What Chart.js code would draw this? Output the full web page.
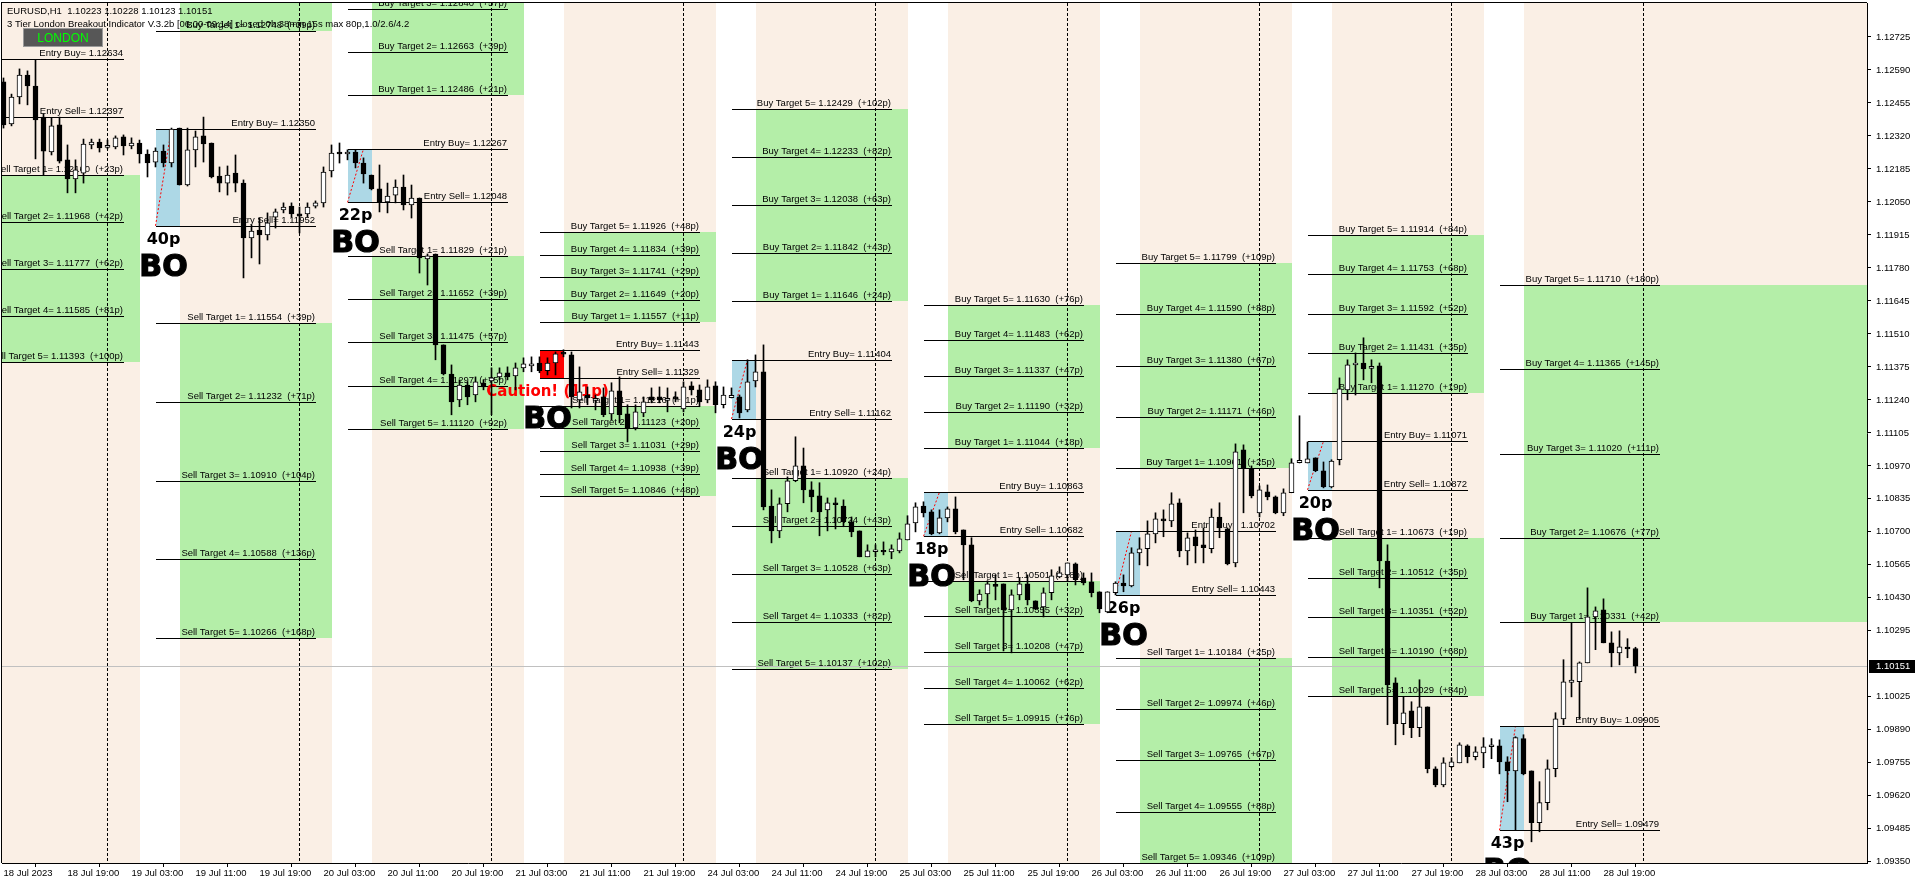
<!DOCTYPE html>
<html lang="en">
<head>
<meta charset="UTF-8">
<title>EURUSD,H1 - 3 Tier London Breakout</title>
<style>
    * { margin: 0; padding: 0; }
    body { background: #fff; }
    .container { position: relative; width: 1916px; height: 885px; }
</style>
</head>
<body>
<div class="container">
    <canvas id="chart" width="1916" height="885"></canvas>
</div>
<script src="https://cdn.jsdelivr.net/npm/chart.js@4.4.1/dist/chart.umd.min.js"></script>
<script>
    // bar 0 = 18 Jul 11:00, one bar per hour, labels every 8 bars
    var timeLabels = ['18 Jul 2023', '18 Jul 19:00', '19 Jul 03:00', '19 Jul 11:00', '19 Jul 19:00',
        '20 Jul 03:00', '20 Jul 11:00', '20 Jul 19:00', '21 Jul 03:00', '21 Jul 11:00', '21 Jul 19:00',
        '24 Jul 03:00', '24 Jul 11:00', '24 Jul 19:00', '25 Jul 03:00', '25 Jul 11:00', '25 Jul 19:00',
        '26 Jul 03:00', '26 Jul 11:00', '26 Jul 19:00', '27 Jul 03:00', '27 Jul 11:00', '27 Jul 19:00',
        '28 Jul 03:00', '28 Jul 11:00', '28 Jul 19:00'];

    var priceTicks = [1.12725, 1.12590, 1.12455, 1.12320, 1.12185, 1.12050, 1.11915, 1.11780, 1.11645,
        1.11510, 1.11375, 1.11240, 1.11105, 1.10970, 1.10835, 1.10700, 1.10565, 1.10430, 1.10295,
        1.10025, 1.09890, 1.09755, 1.09620, 1.09485, 1.09350];

    var bidPrice = 1.10151;
    var daySeparators = [13, 37, 61, 85, 109, 133, 157, 181, 205];

    // candles: [open, high, low, close]
    var candles = [
        [1.12541, 1.12557, 1.12352, 1.12365], [1.12369, 1.12491, 1.12361, 1.12479], [1.12479, 1.12594, 1.12451, 1.12569],
        [1.12569, 1.12586, 1.12447, 1.12524], [1.12524, 1.12631, 1.12226, 1.12385], [1.12397, 1.12410, 1.12160, 1.12258],
        [1.12254, 1.12393, 1.12242, 1.12361], [1.12365, 1.12397, 1.12209, 1.12217], [1.12222, 1.12283, 1.12087, 1.12144],
        [1.12144, 1.12222, 1.12087, 1.12181], [1.12168, 1.12307, 1.12127, 1.12287], [1.12283, 1.12307, 1.12267, 1.12295],
        [1.12295, 1.12307, 1.12254, 1.12271], [1.12275, 1.12303, 1.12267, 1.12279], [1.12275, 1.12320, 1.12267, 1.12312],
        [1.12316, 1.12324, 1.12242, 1.12279], [1.12279, 1.12312, 1.12267, 1.12291], [1.12291, 1.12303, 1.12209, 1.12246],
        [1.12246, 1.12263, 1.12152, 1.12209], [1.12213, 1.12271, 1.12193, 1.12258], [1.12258, 1.12283, 1.12193, 1.12209],
        [1.12209, 1.12352, 1.12193, 1.12348], [1.12352, 1.12352, 1.12119, 1.12119], [1.12119, 1.12352, 1.12115, 1.12263],
        [1.12263, 1.12340, 1.12193, 1.12316], [1.12320, 1.12397, 1.12213, 1.12287], [1.12291, 1.12291, 1.12148, 1.12152],
        [1.12156, 1.12193, 1.12091, 1.12127], [1.12127, 1.12197, 1.12078, 1.12160], [1.12168, 1.12242, 1.12091, 1.12127],
        [1.12127, 1.12140, 1.11739, 1.11903], [1.11903, 1.11956, 1.11821, 1.11931], [1.11935, 1.11984, 1.11796, 1.11915],
        [1.11915, 1.12005, 1.11894, 1.11964], [1.11988, 1.12021, 1.11943, 1.12009], [1.12017, 1.12046, 1.12005, 1.12029],
        [1.12033, 1.12046, 1.11988, 1.12001], [1.12001, 1.12029, 1.11923, 1.11992], [1.12001, 1.12046, 1.11988, 1.12029],
        [1.12033, 1.12054, 1.12025, 1.12046], [1.12046, 1.12193, 1.12029, 1.12172], [1.12177, 1.12283, 1.12152, 1.12250],
        [1.12254, 1.12291, 1.12209, 1.12246], [1.12246, 1.12263, 1.12222, 1.12254], [1.12254, 1.12263, 1.12189, 1.12209],
        [1.12209, 1.12230, 1.12127, 1.12164], [1.12160, 1.12160, 1.12099, 1.12103], [1.12103, 1.12201, 1.12009, 1.12050],
        [1.12050, 1.12127, 1.12005, 1.12074], [1.12078, 1.12140, 1.12046, 1.12111], [1.12111, 1.12160, 1.12017, 1.12038],
        [1.12038, 1.12119, 1.11984, 1.12066], [1.12066, 1.12066, 1.11759, 1.11821], [1.11817, 1.11837, 1.11710, 1.11829],
        [1.11837, 1.11837, 1.11404, 1.11465], [1.11465, 1.11465, 1.11342, 1.11346], [1.11346, 1.11383, 1.11179, 1.11232],
        [1.11240, 1.11322, 1.11212, 1.11301], [1.11301, 1.11314, 1.11220, 1.11252], [1.11260, 1.11334, 1.11232, 1.11314],
        [1.11310, 1.11322, 1.11281, 1.11293], [1.11318, 1.11371, 1.11179, 1.11330], [1.11334, 1.11371, 1.11322, 1.11351],
        [1.11351, 1.11375, 1.11322, 1.11334], [1.11338, 1.11391, 1.11281, 1.11371], [1.11371, 1.11412, 1.11355, 1.11387],
        [1.11379, 1.11416, 1.11355, 1.11387], [1.11391, 1.11416, 1.11351, 1.11359], [1.11359, 1.11412, 1.11342, 1.11391],
        [1.11391, 1.11436, 1.11342, 1.11428], [1.11432, 1.11445, 1.11416, 1.11430], [1.11424, 1.11436, 1.11207, 1.11252],
        [1.11240, 1.11375, 1.11207, 1.11273], [1.11260, 1.11293, 1.11220, 1.11248], [1.11240, 1.11260, 1.11199, 1.11244],
        [1.11252, 1.11289, 1.11171, 1.11179], [1.11183, 1.11310, 1.11158, 1.11277], [1.11277, 1.11334, 1.11146, 1.11179],
        [1.11183, 1.11220, 1.11068, 1.11125], [1.11125, 1.11220, 1.11117, 1.11191], [1.11187, 1.11252, 1.11171, 1.11232],
        [1.11252, 1.11289, 1.11228, 1.11240], [1.11252, 1.11293, 1.11228, 1.11240], [1.11240, 1.11289, 1.11191, 1.11244],
        [1.11252, 1.11273, 1.11232, 1.11244], [1.11203, 1.11314, 1.11191, 1.11293], [1.11297, 1.11314, 1.11260, 1.11281],
        [1.11281, 1.11301, 1.11212, 1.11232], [1.11240, 1.11322, 1.11228, 1.11293], [1.11297, 1.11314, 1.11187, 1.11220],
        [1.11220, 1.11293, 1.11207, 1.11260], [1.11252, 1.11289, 1.11248, 1.11256], [1.11252, 1.11260, 1.11166, 1.11187],
        [1.11199, 1.11404, 1.11191, 1.11314], [1.11318, 1.11424, 1.11293, 1.11355], [1.11355, 1.11465, 1.10790, 1.10802],
        [1.10806, 1.10872, 1.10655, 1.10704], [1.10704, 1.10839, 1.10676, 1.10815], [1.10815, 1.10925, 1.10782, 1.10909],
        [1.10909, 1.11089, 1.10905, 1.10970], [1.10970, 1.11043, 1.10819, 1.10872], [1.10872, 1.10905, 1.10782, 1.10843],
        [1.10847, 1.10901, 1.10684, 1.10782], [1.10790, 1.10839, 1.10704, 1.10819], [1.10819, 1.10839, 1.10712, 1.10811],
        [1.10806, 1.10831, 1.10721, 1.10741], [1.10741, 1.10761, 1.10680, 1.10700], [1.10704, 1.10704, 1.10598, 1.10598],
        [1.10598, 1.10647, 1.10598, 1.10622], [1.10622, 1.10647, 1.10598, 1.10624], [1.10622, 1.10659, 1.10606, 1.10620],
        [1.10618, 1.10647, 1.10590, 1.10631], [1.10622, 1.10696, 1.10614, 1.10672], [1.10667, 1.10766, 1.10667, 1.10733],
        [1.10737, 1.10819, 1.10700, 1.10802], [1.10806, 1.10823, 1.10761, 1.10778], [1.10782, 1.10790, 1.10688, 1.10692],
        [1.10696, 1.10790, 1.10692, 1.10757], [1.10757, 1.10802, 1.10741, 1.10794], [1.10794, 1.10843, 1.10692, 1.10700],
        [1.10708, 1.10708, 1.10504, 1.10647], [1.10647, 1.10676, 1.10414, 1.10418], [1.10418, 1.10463, 1.10401, 1.10446],
        [1.10446, 1.10500, 1.10389, 1.10487], [1.10483, 1.10524, 1.10422, 1.10479], [1.10487, 1.10487, 1.10213, 1.10381],
        [1.10381, 1.10463, 1.10205, 1.10442], [1.10442, 1.10512, 1.10422, 1.10487], [1.10487, 1.10524, 1.10401, 1.10422],
        [1.10418, 1.10418, 1.10381, 1.10385], [1.10393, 1.10471, 1.10352, 1.10451], [1.10451, 1.10545, 1.10422, 1.10520],
        [1.10516, 1.10557, 1.10512, 1.10532], [1.10524, 1.10573, 1.10496, 1.10573], [1.10569, 1.10573, 1.10483, 1.10504],
        [1.10512, 1.10532, 1.10483, 1.10491], [1.10496, 1.10532, 1.10434, 1.10451], [1.10455, 1.10455, 1.10369, 1.10385],
        [1.10373, 1.10455, 1.10369, 1.10455], [1.10451, 1.10496, 1.10442, 1.10491], [1.10491, 1.10524, 1.10455, 1.10479],
        [1.10479, 1.10635, 1.10475, 1.10614], [1.10614, 1.10676, 1.10565, 1.10631], [1.10631, 1.10745, 1.10561, 1.10692],
        [1.10692, 1.10778, 1.10655, 1.10753], [1.10753, 1.10790, 1.10680, 1.10745], [1.10745, 1.10860, 1.10721, 1.10815],
        [1.10819, 1.10835, 1.10598, 1.10622], [1.10622, 1.10696, 1.10565, 1.10676], [1.10680, 1.10708, 1.10573, 1.10643],
        [1.10647, 1.10716, 1.10573, 1.10635], [1.10631, 1.10794, 1.10614, 1.10761], [1.10761, 1.10819, 1.10676, 1.10716],
        [1.10712, 1.10716, 1.10565, 1.10569], [1.10573, 1.11060, 1.10557, 1.11027], [1.11036, 1.11056, 1.10778, 1.10962],
        [1.10958, 1.10970, 1.10839, 1.10847], [1.10778, 1.10888, 1.10761, 1.10872], [1.10864, 1.10892, 1.10831, 1.10843],
        [1.10843, 1.10847, 1.10774, 1.10778], [1.10778, 1.10876, 1.10766, 1.10860], [1.10860, 1.10999, 1.10860, 1.10982],
        [1.10986, 1.11175, 1.10982, 1.10990], [1.10982, 1.11068, 1.10982, 1.10999], [1.11003, 1.11003, 1.10946, 1.10950],
        [1.10950, 1.10986, 1.10880, 1.10884], [1.10884, 1.10995, 1.10880, 1.10990], [1.10995, 1.11330, 1.10974, 1.11285],
        [1.11281, 1.11404, 1.11240, 1.11383], [1.11383, 1.11432, 1.11260, 1.11391], [1.11391, 1.11494, 1.11322, 1.11367],
        [1.11371, 1.11404, 1.11310, 1.11375], [1.11379, 1.11391, 1.10471, 1.10581], [1.10581, 1.10647, 1.09911, 1.10074],
        [1.10082, 1.10103, 1.09829, 1.09915], [1.09915, 1.10025, 1.09870, 1.09960], [1.09968, 1.10005, 1.09858, 1.09899],
        [1.09899, 1.10095, 1.09862, 1.09984], [1.09984, 1.09984, 1.09714, 1.09731], [1.09731, 1.09739, 1.09657, 1.09665],
        [1.09665, 1.09776, 1.09657, 1.09755], [1.09739, 1.09776, 1.09735, 1.09759], [1.09755, 1.09837, 1.09755, 1.09829],
        [1.09825, 1.09829, 1.09755, 1.09780], [1.09780, 1.09821, 1.09767, 1.09800], [1.09796, 1.09858, 1.09735, 1.09821],
        [1.09821, 1.09854, 1.09772, 1.09829], [1.09825, 1.09849, 1.09710, 1.09759], [1.09759, 1.09780, 1.09596, 1.09722],
        [1.09722, 1.09862, 1.09481, 1.09858], [1.09854, 1.09870, 1.09706, 1.09710], [1.09722, 1.09722, 1.09432, 1.09510],
        [1.09510, 1.09678, 1.09473, 1.09592], [1.09592, 1.09767, 1.09563, 1.09731], [1.09731, 1.09960, 1.09698, 1.09935],
        [1.09935, 1.10177, 1.09911, 1.10087], [1.10087, 1.10328, 1.10025, 1.10091], [1.10087, 1.10168, 1.09935, 1.10164],
        [1.10164, 1.10471, 1.10164, 1.10352], [1.10352, 1.10393, 1.10218, 1.10377], [1.10381, 1.10426, 1.10246, 1.10246],
        [1.10246, 1.10291, 1.10148, 1.10205], [1.10205, 1.10295, 1.10156, 1.10230], [1.10226, 1.10263, 1.10185, 1.10224],
        [1.10223, 1.10228, 1.10123, 1.10151]
    ];

    // london breakout levels, one entry per day (range box starts at 06:00)
    var rangeStart = [-5, 19, 43, 67, 91, 115, 139, 163, 187];
    var entryBuy = [1.12634, 1.12350, 1.12267, 1.11443, 1.11404, 1.10863, 1.10702, 1.11071, 1.09905];
    var entrySell = [1.12397, 1.11952, 1.12048, 1.11329, 1.11162, 1.10682, 1.10443, 1.10872, 1.09479];
    var rangePips = [24, 40, 22, 11, 24, 18, 26, 20, 43];
    var caution = [false, false, false, true, false, false, false, false, false];

    var buyTargets = [
        [],
        [1.12748],
        [1.12486, 1.12663, 1.12840],
        [1.11557, 1.11649, 1.11741, 1.11834, 1.11926],
        [1.11646, 1.11842, 1.12038, 1.12233, 1.12429],
        [1.11044, 1.11190, 1.11337, 1.11483, 1.11630],
        [1.10961, 1.11171, 1.11380, 1.11590, 1.11799],
        [1.11270, 1.11431, 1.11592, 1.11753, 1.11914],
        [1.10331, 1.10676, 1.11020, 1.11365, 1.11710]
    ];
    var buyPips = [[], [39], [21, 39, 57], [11, 20, 29, 39, 48], [24, 43, 63, 82, 102], [18, 32, 47, 62, 76],
        [25, 46, 67, 88, 109], [19, 35, 52, 68, 84], [42, 77, 111, 145, 180]];

    var sellTargets = [
        [1.12160, 1.11968, 1.11777, 1.11585, 1.11393],
        [1.11554, 1.11232, 1.10910, 1.10588, 1.10266],
        [1.11829, 1.11652, 1.11475, 1.11297, 1.11120],
        [1.11216, 1.11123, 1.11031, 1.10938, 1.10846],
        [1.10920, 1.10724, 1.10528, 1.10333, 1.10137],
        [1.10501, 1.10355, 1.10208, 1.10062, 1.09915],
        [1.10184, 1.09974, 1.09765, 1.09555, 1.09346],
        [1.10673, 1.10512, 1.10351, 1.10190, 1.10029],
        []
    ];
    var sellPips = [[23, 42, 62, 81, 100], [39, 71, 104, 136, 168], [21, 39, 57, 75, 92], [11, 20, 29, 39, 48],
        [24, 43, 63, 82, 102], [18, 32, 47, 62, 76], [25, 46, 67, 88, 109], [19, 35, 52, 68, 84], []];

    var FONT = '"Liberation Sans", Arial, sans-serif';
    var PEACH = 'rgb(250,239,229)';
    var GREEN = 'rgb(180,238,168)';

    var bodies = [], wicks = [], bodyColors = [];
    candles.forEach(function (c, i) {
        var lo = Math.min(c[0], c[3]), hi = Math.max(c[0], c[3]);
        if (hi - lo < 0.00005) { lo -= 0.000025; hi += 0.000025; }
        bodies.push({ x: i, y: [lo, hi] });
        wicks.push({ x: i, y: [c[2], c[1]] });
        bodyColors.push(c[3] >= c[0] ? '#ffffff' : '#000000');
    });

    function levelLabel(name, v) { return name + '= ' + v.toFixed(5); }

    var breakout = {
        id: 'breakout',
        beforeDatasetsDraw: function (chart) {
            var ctx = chart.ctx, a = chart.chartArea;
            var xs = chart.scales.x, ys = chart.scales.y;
            function px(v) { return xs.getPixelForValue(v); }
            function py(v) { return ys.getPixelForValue(v); }
            var last = rangeStart.length - 1;

            ctx.save();
            ctx.beginPath();
            ctx.rect(a.left, a.top, a.right - a.left, a.bottom - a.top);
            ctx.clip();

            // session zones
            for (var d = 0; d <= last; d++) {
                var b = rangeStart[d];
                var x1 = Math.round(px(b + 3)), x2 = d === last ? a.right : Math.round(px(b + 22));
                ctx.fillStyle = PEACH;
                ctx.fillRect(x1, a.top, x2 - x1, a.bottom - a.top);
                ctx.fillStyle = GREEN;
                var bt = buyTargets[d], st = sellTargets[d];
                if (bt.length) {
                    var yt = bt.length === 5 ? py(bt[4]) : a.top;
                    ctx.fillRect(x1, Math.round(yt), x2 - x1, Math.round(py(bt[0])) - Math.round(yt));
                }
                if (st.length) {
                    var yb = st.length === 5 ? py(st[4]) : a.bottom;
                    ctx.fillRect(x1, Math.round(py(st[0])), x2 - x1, Math.round(yb) - Math.round(py(st[0])));
                }
            }

            // day separators
            ctx.strokeStyle = '#000';
            ctx.lineWidth = 1;
            ctx.setLineDash([3, 2]);
            daySeparators.forEach(function (i) {
                var x = Math.floor(px(i)) + 0.5;
                ctx.beginPath();
                ctx.moveTo(x, a.top);
                ctx.lineTo(x, a.bottom);
                ctx.stroke();
            });
            ctx.setLineDash([]);

            // range boxes
            for (d = 0; d <= last; d++) {
                b = rangeStart[d];
                var bx1 = Math.round(px(b)), bx2 = Math.round(px(b + 3));
                var by1 = Math.round(py(entryBuy[d])), by2 = Math.round(py(entrySell[d]));
                ctx.fillStyle = caution[d] ? '#ff0000' : 'rgb(173,216,230)';
                ctx.fillRect(bx1, by1, bx2 - bx1, by2 - by1);
                if (!caution[d]) {
                    ctx.strokeStyle = '#ff0000';
                    ctx.setLineDash([2, 2]);
                    ctx.beginPath();
                    ctx.moveTo(px(b), py(entrySell[d]));
                    ctx.lineTo(px(b + 2), py(entryBuy[d]));
                    ctx.stroke();
                    ctx.setLineDash([]);
                }
            }

            // level lines and labels
            ctx.font = '9.5px ' + FONT;
            ctx.textAlign = 'right';
            ctx.textBaseline = 'alphabetic';
            function level(d, v, text) {
                var lx1 = Math.round(px(rangeStart[d])), lx2 = Math.round(px(rangeStart[d] + 20));
                var ly = Math.round(py(v));
                ctx.fillStyle = '#000';
                ctx.fillRect(lx1, ly, lx2 - lx1, 1);
                ctx.fillText(text, lx2 - 1, ly - 3);
            }
            for (d = 0; d <= last; d++) {
                level(d, entryBuy[d], levelLabel('Entry Buy', entryBuy[d]));
                level(d, entrySell[d], levelLabel('Entry Sell', entrySell[d]));
                buyTargets[d].forEach(function (v, k) {
                    level(d, v, levelLabel('Buy Target ' + (k + 1), v) + '  (+' + buyPips[d][k] + 'p)');
                });
                sellTargets[d].forEach(function (v, k) {
                    level(d, v, levelLabel('Sell Target ' + (k + 1), v) + '  (+' + sellPips[d][k] + 'p)');
                });
            }

            // breakout tags
            ctx.textAlign = 'center';
            for (d = 1; d <= last; d++) {
                b = rangeStart[d];
                var cx = (px(b) + px(b + 3)) / 2 - 4;
                var yB = py(entrySell[d]);
                if (caution[d]) {
                    ctx.fillStyle = '#ff0000';
                    ctx.font = 'bold 15px "DejaVu Sans", sans-serif';
                    ctx.fillText('Caution! (' + rangePips[d] + 'p)', cx, yB + 18);
                } else {
                    ctx.fillStyle = '#000';
                    ctx.font = 'bold 16px "DejaVu Sans", sans-serif';
                    ctx.fillText(rangePips[d] + 'p', cx, yB + 18);
                }
                ctx.fillStyle = '#000';
                ctx.strokeStyle = '#000';
                ctx.lineWidth = 1.2;
                ctx.font = 'bold 30px "DejaVu Sans", sans-serif';
                ctx.fillText('BO', cx, yB + 50);
                ctx.strokeText('BO', cx, yB + 50);
                ctx.lineWidth = 1;
            }

            // bid line
            ctx.fillStyle = '#c0c0c0';
            ctx.fillRect(a.left, Math.round(py(bidPrice)), a.right - a.left, 1);
            ctx.restore();
        },
        afterDraw: function (chart) {
            var ctx = chart.ctx, a = chart.chartArea, ys = chart.scales.y;
            ctx.save();
            // frame
            ctx.fillStyle = '#000';
            ctx.fillRect(a.left - 1, a.top - 1, a.right - a.left + 1, 1);
            ctx.fillRect(a.left - 1, a.top - 1, 1, a.bottom - a.top + 1);

            // title
            ctx.font = '9.5px ' + FONT;
            ctx.textAlign = 'left';
            ctx.textBaseline = 'alphabetic';
            ctx.fillText('EURUSD,H1  1.10223 1.10228 1.10123 1.10151', 7, 14);
            ctx.fillText('3 Tier London Breakout Indicator V.3.2b [06:00-09:14] closed 0h 38min 15s max 80p,1.0/2.6/4.2', 7, 27);

            // LONDON button
            ctx.fillStyle = '#575757';
            ctx.fillRect(23, 28, 80, 19);
            ctx.strokeStyle = '#9a9a9a';
            ctx.strokeRect(23.5, 28.5, 79, 18);
            ctx.fillStyle = '#00ff00';
            ctx.font = '12px ' + FONT;
            ctx.textAlign = 'center';
            ctx.fillText('LONDON', 63, 42);

            // bid price tag
            var y = Math.round(ys.getPixelForValue(bidPrice));
            ctx.fillStyle = '#000';
            ctx.fillRect(a.right + 2, y - 6, 46, 13);
            ctx.fillStyle = '#fff';
            ctx.font = '9.5px ' + FONT;
            ctx.textAlign = 'left';
            ctx.textBaseline = 'middle';
            ctx.fillText(bidPrice.toFixed(5), a.right + 9, y + 0.5);
            ctx.restore();
        }
    };

    var ctx = document.getElementById('chart').getContext('2d');
    var myChart = new Chart(ctx, {
        type: 'bar',
        data: {
            datasets: [{
                label: 'body',
                data: bodies,
                backgroundColor: bodyColors,
                borderColor: '#000',
                borderWidth: 1,
                borderSkipped: false,
                barThickness: 5,
                grouped: false
            }, {
                label: 'wick',
                data: wicks,
                backgroundColor: '#000',
                borderWidth: 0,
                barThickness: 1,
                grouped: false
            }]
        },
        options: {
            responsive: false,
            animation: false,
            events: [],
            layout: { padding: { left: 2, top: 3, right: 0, bottom: 0 }, autoPadding: false },
            plugins: { legend: { display: false }, tooltip: { enabled: false } },
            scales: {
                x: {
                    type: 'linear',
                    min: -0.1875,
                    max: 232.9375,
                    offset: false,
                    grid: { drawOnChartArea: false, tickLength: 4, color: '#000' },
                    border: { color: '#000' },
                    ticks: {
                        autoSkip: false, maxRotation: 0, minRotation: 0, align: 'start', padding: 1,
                        color: '#000', font: { family: FONT, size: 9.5 },
                        callback: function (v) { return timeLabels[Math.round(v / 8)]; }
                    },
                    afterBuildTicks: function (s) {
                        s.ticks = timeLabels.map(function (t, k) { return { value: k * 8 }; });
                    },
                    afterFit: function (s) { s.height = 22; s.paddingLeft = 0; s.paddingRight = 0; }
                },
                y: {
                    position: 'right',
                    min: 1.093453,
                    max: 1.128637,
                    grid: { drawOnChartArea: false, tickLength: 4, color: '#000' },
                    border: { color: '#000' },
                    ticks: {
                        autoSkip: false, padding: 5, color: '#000', font: { family: FONT, size: 9.5 },
                        callback: function (v) { return v.toFixed(5); }
                    },
                    afterBuildTicks: function (s) {
                        s.ticks = priceTicks.map(function (v) { return { value: v }; });
                    },
                    afterFit: function (s) { s.width = 49; s.paddingTop = 0; s.paddingBottom = 0; }
                }
            }
        },
        plugins: [breakout]
    });
</script>
</body>
</html>
